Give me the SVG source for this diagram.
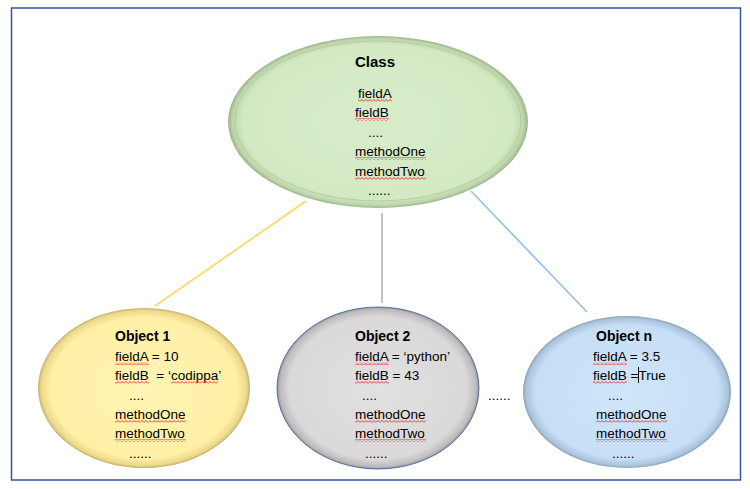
<svg xmlns="http://www.w3.org/2000/svg" width="750" height="489" viewBox="0 0 750 489">
<defs>
<style>
text{font-family:"Liberation Sans",Arial,sans-serif;font-size:13.5px;fill:#000}
.t{font-weight:bold;font-size:14px}
.ct{font-weight:bold;font-size:15px}
.sq{fill:url(#squig)}
.conn{fill:none;stroke-width:1.8}
</style>
<pattern id="squig" patternUnits="userSpaceOnUse" width="4" height="3">
<path d="M0,2.5 L2,0.5 L4,2.5" fill="none" stroke="#E02020" stroke-width="0.9"/>
</pattern>
<radialGradient id="gGreen" cx="50%" cy="50%" r="50%">
<stop offset="0" stop-color="#D8ECCA"/>
<stop offset="0.9" stop-color="#D3E9C3"/>
<stop offset="0.97" stop-color="#BDD5AB"/>
<stop offset="1" stop-color="#9BB38A"/>
</radialGradient>
<radialGradient id="gYellow" cx="50%" cy="50%" r="50%">
<stop offset="0" stop-color="#FFF4B4"/>
<stop offset="0.88" stop-color="#FFF0A6"/>
<stop offset="0.97" stop-color="#EBD88A"/>
<stop offset="1" stop-color="#C2AE6A"/>
</radialGradient>
<radialGradient id="gGray" cx="50%" cy="50%" r="50%">
<stop offset="0" stop-color="#E2E0E0"/>
<stop offset="0.88" stop-color="#DAD8D8"/>
<stop offset="0.97" stop-color="#BDBBBB"/>
<stop offset="1" stop-color="#959595"/>
</radialGradient>
<radialGradient id="gBlue" cx="50%" cy="50%" r="50%">
<stop offset="0" stop-color="#D0E5F9"/>
<stop offset="0.88" stop-color="#C6DFF7"/>
<stop offset="0.97" stop-color="#ABC4DC"/>
<stop offset="1" stop-color="#8AA2B8"/>
</radialGradient>
</defs>
<rect x="11.5" y="8" width="729" height="472" fill="#FFFFFF" stroke="#2F5597" stroke-width="1.5"/>
<g id="connectors">
<line class="conn" x1="306" y1="201" x2="155" y2="306" stroke="#FFD966"/>
<line class="conn" x1="382" y1="213" x2="382" y2="303" stroke="#BFBFBF"/>
<line class="conn" x1="471" y1="191" x2="587" y2="312" stroke="#9DC3E6"/>
</g>
<g id="class">
<ellipse cx="378" cy="122" rx="150" ry="86" fill="url(#gGreen)"/>
<ellipse cx="378" cy="121" rx="143" ry="80" fill="none" stroke="#AFC89C" stroke-width="0.8"/>
<text class="ct" x="355" y="67">Class</text>
<text x="358" y="98">fieldA</text>
<text x="355" y="117">fieldB</text>
<text x="368" y="137">....</text>
<text x="355" y="156">methodOne</text>
<text x="355" y="176">methodTwo</text>
<text x="368" y="195">......</text>
<rect class="sq" x="358" y="99" width="34" height="3"/>
<rect class="sq" x="355" y="118" width="34" height="3"/>
<rect class="sq" x="355" y="157" width="71" height="3"/>
<rect class="sq" x="355" y="177" width="71" height="3"/>
</g>
<g id="object1">
<ellipse cx="144" cy="388" rx="106" ry="80" fill="url(#gYellow)"/>
<text class="t" x="115" y="341">Object 1</text>
<text x="115" y="361">fieldA = 10</text>
<text x="115" y="380" xml:space="preserve">fieldB  = ‘codippa’</text>
<text x="129" y="400">....</text>
<text x="115" y="419">methodOne</text>
<text x="115" y="438">methodTwo</text>
<text x="129" y="458">......</text>
<rect class="sq" x="115" y="362" width="34" height="3"/>
<rect class="sq" x="115" y="381" width="34" height="3"/>
<rect class="sq" x="171" y="381" width="47" height="3"/>
<rect class="sq" x="115" y="420" width="71" height="3"/>
<rect class="sq" x="115" y="439" width="71" height="3"/>
</g>
<g id="object2">
<ellipse cx="378" cy="388" rx="101" ry="81" fill="url(#gGray)" stroke="#2F5597" stroke-width="1" stroke-opacity="0.75"/>
<text class="t" x="355" y="341">Object 2</text>
<text x="355" y="361">fieldA = ‘python’</text>
<text x="355" y="380">fieldB = 43</text>
<text x="362" y="400">....</text>
<text x="355" y="419">methodOne</text>
<text x="355" y="438">methodTwo</text>
<text x="365" y="458">......</text>
<rect class="sq" x="355" y="362" width="34" height="3"/>
<rect class="sq" x="355" y="381" width="34" height="3"/>
<rect class="sq" x="355" y="420" width="71" height="3"/>
<rect class="sq" x="355" y="439" width="71" height="3"/>
</g>
<g id="ellipsis">
<text x="488" y="400">......</text>
</g>
<g id="objectn">
<ellipse cx="627" cy="392" rx="104" ry="76" fill="url(#gBlue)"/>
<text class="t" x="596" y="341">Object n</text>
<text x="593" y="361">fieldA = 3.5</text>
<text x="593" y="380">fieldB =True</text>
<line x1="638.5" y1="367" x2="638.5" y2="383" stroke="#000" stroke-width="1"/>
<text x="608" y="400">....</text>
<text x="596" y="419">methodOne</text>
<text x="596" y="438">methodTwo</text>
<text x="612" y="458">......</text>
<rect class="sq" x="593" y="362" width="34" height="3"/>
<rect class="sq" x="593" y="381" width="34" height="3"/>
<rect class="sq" x="596" y="420" width="71" height="3"/>
<rect class="sq" x="596" y="439" width="71" height="3"/>
</g>
</svg>
